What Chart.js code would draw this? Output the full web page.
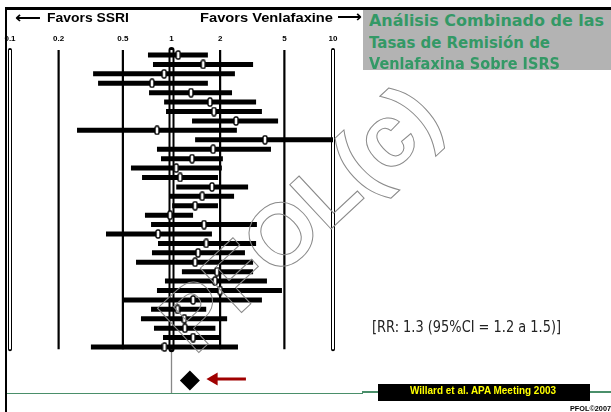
<!DOCTYPE html>
<html>
<head>
<meta charset="utf-8">
<script src="https://cdn.jsdelivr.net/npm/chart.js@4.4.1/dist/chart.umd.min.js"></script>
<style>
    body { margin: 0; background: #fff; }
    #wrap { position: relative; width: 611px; height: 412px; overflow: hidden; background: #fff; }
    #wrap canvas { position: absolute; left: 0; top: 0; }
    .t { position: absolute; white-space: nowrap; transform-origin: 0 0; }
    .hdr { font-family: 'Liberation Sans', Arial, sans-serif; font-weight: 900; font-size: 13px; line-height: 13px; color: #000; }
    .arr { font-family: 'DejaVu Sans', sans-serif; font-weight: bold; font-size: 16px; line-height: 16px; color: #000; }
    .ttl { font-family: 'DejaVu Sans', Tahoma, sans-serif; font-weight: bold; font-size: 16px; line-height: 16px; color: rgb(51,153,102); }
    .rr { font-family: 'DejaVu Sans', Tahoma, sans-serif; font-size: 15px; line-height: 15px; color: #222; }
    .src { font-family: 'Liberation Sans Narrow', 'Liberation Sans', sans-serif; font-weight: bold; font-size: 11px; line-height: 11px; color: #ffff00; }
    .cp { font-family: 'Liberation Sans', sans-serif; font-weight: bold; font-size: 7px; line-height: 7px; color: #000; }
</style>
</head>
<body>
<div id="wrap">
    <canvas id="forest" width="611" height="412"></canvas>

    <!-- marco -->
    <div style="position:absolute;left:5px;top:7px;width:606px;height:2.5px;background:#000"></div>
    <div style="position:absolute;left:5px;top:7px;width:2.3px;height:405px;background:#000"></div>

    <!-- línea verde inferior -->
    <div style="position:absolute;left:7px;top:392.7px;width:356px;height:1.5px;background:#4a8f6a"></div>
    <div style="position:absolute;left:362px;top:390.5px;width:249px;height:2px;background:#4a8f6a"></div>

    <div class="t arr" data-w="26" style="left:15px;top:9.5px">⟵</div>
    <div class="t hdr" data-w="82" style="left:47px;top:11px">Favors SSRI</div>
    <div class="t hdr" data-w="133" style="left:200px;top:11px">Favors Venlafaxine</div>
    <div class="t arr" data-w="25" style="left:337px;top:9px">⟶</div>

    <div style="position:absolute;left:363px;top:10px;width:248px;height:60px;background:#b3b3b3"></div>
    <div class="t ttl" data-w="235" style="left:369px;top:13.2px">Análisis Combinado de las</div>
    <div class="t ttl" data-w="181" style="left:369px;top:34.5px">Tasas de Remisión de</div>
    <div class="t ttl" data-w="191" style="left:369px;top:55.5px">Venlafaxina Sobre ISRS</div>

    <div class="t rr" data-w="189" style="left:372px;top:320.3px">[RR: 1.3 (95%CI = 1.2 a 1.5)]</div>

    <div style="position:absolute;left:378px;top:384px;width:212px;height:17px;background:#000"></div>
    <div class="t src" data-w="146" style="left:410px;top:385px">Willard et al. APA Meeting 2003</div>

    <div class="t cp" data-w="41" style="left:570px;top:404.5px">PFOL©2007</div>
</div>

<script>
// --- datos ---
const TICK_VALUES = [0.1, 0.2, 0.5, 1, 2, 5, 10];
const TICK_LABELS = ['0.1', '0.2', '0.5', '1', '2', '5', '10'];

// un estudio por fila (de arriba a abajo)
const STUDY_RR = [1.10, 1.57, 0.90, 0.757, 1.32, 1.73, 1.83, 2.51, 0.813, 3.79, 1.81, 1.34, 1.07, 1.13, 1.78, 1.55,
                  1.40, 0.98, 1.59, 0.825, 1.64, 1.46, 1.40, 1.91, 1.86, 2.00, 1.36, 1.09, 1.20, 1.21, 1.36, 0.905];
const STUDY_LO = [0.715, 0.768, 0.327, 0.351, 0.726, 0.90, 0.925, 1.34, 0.26, 1.40, 0.813, 0.861, 0.561, 0.657, 1.07, 0.965,
                  1.01, 0.685, 0.747, 0.393, 0.825, 0.757, 0.603, 1.16, 0.911, 0.813, 0.494, 0.747, 0.647, 0.779, 0.886, 0.317];
const STUDY_HI = [1.68, 3.20, 2.47, 1.68, 2.37, 3.34, 3.63, 4.57, 2.54, 10, 4.13, 2.08, 2.05, 1.94, 2.98, 2.44,
                  1.94, 1.36, 3.38, 1.78, 3.34, 2.85, 3.20, 3.20, 3.90, 4.83, 3.63, 1.64, 2.21, 1.87, 2.00, 2.58];

const POOLED_RR = 1.3;
const POOLED_ROW = 35.55;
const ARROW_X = [1.83, 2.89];
const ARROW_ROW = 35.4;

// extensión vertical de las líneas de referencia (en filas)
const REF_TOP = 0.47, REF_BOTTOM = 32.24, AXIS_BOTTOM = 36.88;

function makeMarker() {
    const c = document.createElement('canvas');
    c.width = 6; c.height = 10;
    const g = c.getContext('2d');
    g.fillStyle = '#fff'; g.strokeStyle = '#000'; g.lineWidth = 1.4;
    g.beginPath();
    if (g.roundRect) g.roundRect(1, 1, 4, 8, 1.5); else g.rect(1, 1, 4, 8);
    g.fill(); g.stroke();
    return c;
}

const datasets = [];
const marker = makeMarker();

// puntos de cada estudio
datasets.push({
    data: STUDY_RR.map((v, i) => ({ x: v, y: i + 1 })),
    showLine: false, pointStyle: marker, pointRadius: 5, order: 0, clip: false
});

// diamante combinado
datasets.push({
    data: [{ x: POOLED_RR, y: POOLED_ROW }],
    showLine: false, pointStyle: 'rectRot', pointRadius: 10,
    pointBackgroundColor: '#000', pointBorderColor: '#000', pointBorderWidth: 0, order: 0, clip: false
});

// flecha roja
datasets.push({
    data: [{ x: ARROW_X[0], y: ARROW_ROW }, { x: ARROW_X[1], y: ARROW_ROW }],
    borderColor: '#a00000', borderWidth: 3, pointStyle: 'triangle',
    pointRadius: [4.5, 0], pointRotation: [-90, 0],
    pointBackgroundColor: '#a00000', pointBorderColor: '#a00000', order: 0, clip: false
});

// intervalos de confianza
STUDY_LO.forEach((lo, i) => {
    datasets.push({
        data: [{ x: lo, y: i + 1 }, { x: STUDY_HI[i], y: i + 1 }],
        borderColor: '#000', borderWidth: 5, pointRadius: 0, borderCapStyle: 'butt', order: 1, clip: false
    });
});

// líneas verticales de referencia
TICK_VALUES.forEach(v => {
    const hollow = (v === 0.1 || v === 1 || v === 10);
    datasets.push({
        data: [{ x: v, y: REF_TOP }, { x: v, y: REF_BOTTOM }],
        borderColor: '#000', borderWidth: hollow ? (v === 1 ? 6 : 4) : 2.2,
        borderCapStyle: hollow ? 'round' : 'butt', pointRadius: 0, order: 3, clip: false
    });
    if (hollow) {
        datasets.push({
            data: [{ x: v, y: REF_TOP }, { x: v, y: REF_BOTTOM }],
            borderColor: '#fff', borderWidth: 2, pointRadius: 0, order: 2, clip: false
        });
    }
});

// línea gris bajo RR = 1
datasets.push({
    data: [{ x: 1, y: REF_BOTTOM }, { x: 1, y: AXIS_BOTTOM }],
    borderColor: '#888', borderWidth: 1.3, pointRadius: 0, order: 3, clip: false
});

const watermark = {
    id: 'watermark',
    afterDatasetsDraw(chart) {
        const ctx = chart.ctx;
        ctx.save();
        ctx.translate(303, 222);
        ctx.rotate(-43 * Math.PI / 180);
        ctx.font = 'bold 88px "Liberation Sans", Arial, sans-serif';
        ctx.textAlign = 'center';
        ctx.textBaseline = 'middle';
        ctx.strokeStyle = '#8a8a8a';
        ctx.lineWidth = 1;
        ctx.strokeText('PFOL(c)', 0, 0);
        ctx.restore();
    }
};

new Chart(document.getElementById('forest'), {
    type: 'line',
    data: { datasets },
    options: {
        responsive: false,
        animation: false,
        layout: { padding: { left: 10, right: 278, top: 30, bottom: 19 } },
        plugins: { legend: { display: false }, tooltip: { enabled: false } },
        scales: {
            x: {
                type: 'logarithmic', position: 'top', min: 0.1, max: 10,
                afterBuildTicks: s => { s.ticks = TICK_VALUES.map(v => ({ value: v })); },
                afterFit: s => { s.height = 14; },
                grid: { display: false, drawTicks: false },
                border: { display: false },
                ticks: {
                    autoSkip: false, maxRotation: 0, padding: 0, color: '#000',
                    font: { family: 'Liberation Sans', weight: 'bold', size: 8 },
                    callback: (v, i) => TICK_LABELS[i]
                }
            },
            y: { type: 'linear', reverse: true, min: -0.168, max: AXIS_BOTTOM, display: false }
        }
    },
    plugins: [watermark]
});

// ajustar los textos a su ancho
document.querySelectorAll('[data-w]').forEach(el => {
    const w = el.getBoundingClientRect().width;
    const target = parseFloat(el.getAttribute('data-w'));
    if (w > 0) el.style.transform = `scaleX(${target / w})`;
});
</script>
</body>
</html>
